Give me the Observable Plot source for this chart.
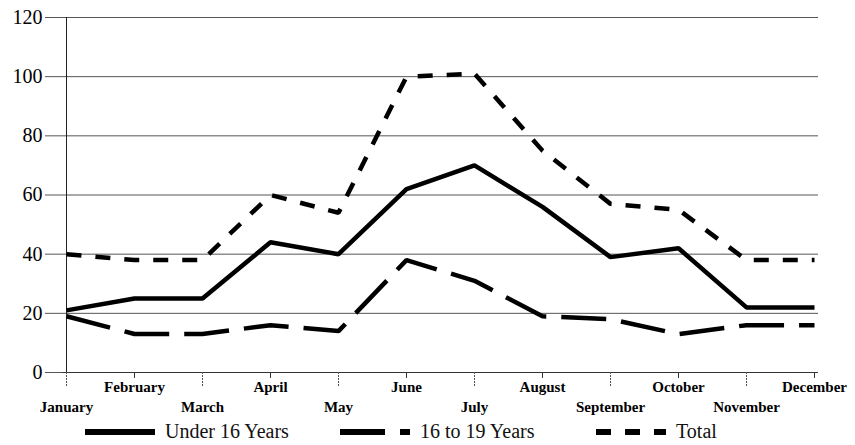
<!DOCTYPE html>
<html>
<head>
<meta charset="utf-8">
<script src="https://cdn.jsdelivr.net/npm/d3@7"></script>
<script src="https://cdn.jsdelivr.net/npm/@observablehq/plot@0.6"></script>
<style>
  html, body { margin: 0; padding: 0; background: white; }
  #wrap { width: 855px; position: relative; font-family: "Liberation Serif", "Tinos", "Times New Roman", "DejaVu Serif", serif; }
  #legend { position: relative; width: 855px; height: 27px; }
  .item { position: absolute; top: 0; height: 27px; display: flex; align-items: center; font-size: 20px; color: #111; }
  .item svg { display: block; margin-right: 10px; }
  #chart svg text { font-family: "Liberation Serif", "Tinos", "Times New Roman", "DejaVu Serif", serif; }
</style>
</head>
<body>
<div id="wrap">
  <div id="chart"></div>
  <div id="legend"></div>
</div>
<script>
const months = ["January","February","March","April","May","June","July","August","September","October","November","December"];
const under16 = [21, 25, 25, 44, 40, 62, 70, 56, 39, 42, 22, 22];
const age16to19 = [19, 13, 13, 16, 14, 38, 31, 19, 18, 13, 16, 16];
const total = [40, 38, 38, 60, 54, 100, 101, 75, 57, 55, 38, 38];
const yTicks = [0, 20, 40, 60, 80, 100, 120];
const seriesNames = ["Under 16 Years", "16 to 19 Years", "Total"];

const serifFont = "'Liberation Serif', 'Tinos', 'Times New Roman', 'DejaVu Serif', serif";

const seriesStyles = [
  {name: seriesNames[0], values: under16, dash: null},
  {name: seriesNames[1], values: age16to19, dash: "45,15"},
  {name: seriesNames[2], values: total, dash: "15,14"}
];

const upperMonths = months.filter((m, i) => i % 2 === 1);
const lowerMonths = months.filter((m, i) => i % 2 === 0);

const lineMarks = seriesStyles.map(s =>
  Plot.lineY(months.map((m, i) => ({month: m, value: s.values[i]})), {
    x: "month", y: "value", stroke: "black", strokeWidth: 4.5,
    strokeDasharray: s.dash ?? undefined, strokeLinejoin: "miter", strokeLinecap: "butt"
  })
);

const chart = Plot.plot({
  width: 855,
  height: 418,
  marginTop: 17,
  marginBottom: 46,
  marginLeft: 62,
  marginRight: 37,
  style: {fontFamily: serifFont, background: "white", overflow: "visible", color: "black"},
  x: {type: "point", domain: months, padding: 0},
  y: {domain: [0, 120]},
  marks: [
    Plot.gridY(yTicks, {stroke: "#555", strokeOpacity: 1, strokeWidth: 1}),
    Plot.axisY({ticks: yTicks, tickSize: 17, tickPadding: 3, fontSize: 20, label: null, stroke: "#555", fill: "black"}),
    Plot.ruleX([months[0]], {y1: 0, y2: 120, stroke: "#222", strokeWidth: 1}),
    Plot.ruleY([0], {stroke: "#333", strokeWidth: 1.2}),
    Plot.axisX({ticks: upperMonths, tickSize: 6, tickPadding: 3, fontSize: 15, fontWeight: "bold", label: null, stroke: "#333", fill: "black"}),
    Plot.axisX({ticks: lowerMonths, tickSize: 15, tickPadding: 14, fontSize: 15, fontWeight: "bold", label: null, stroke: "#555", strokeDasharray: "2,1", fill: "black"}),
    ...lineMarks
  ]
});
document.getElementById("chart").appendChild(chart);

// Legend
const legend = document.getElementById("legend");
const lefts = [85, 340, 596];
const swatchW = [70, 70, 70];
seriesStyles.forEach((s, i) => {
  const item = document.createElement("div");
  item.className = "item";
  item.style.left = lefts[i] + "px";
  const svg = d3.create("svg").attr("width", swatchW[i]).attr("height", 10);
  svg.append("line").attr("x1", 0).attr("x2", swatchW[i]).attr("y1", 5).attr("y2", 5)
    .attr("stroke", "black").attr("stroke-width", 6)
    .attr("stroke-dasharray", s.dash);
  item.appendChild(svg.node());
  const span = document.createElement("span");
  span.textContent = s.name;
  item.appendChild(span);
  legend.appendChild(item);
});
</script>
</body>
</html>
